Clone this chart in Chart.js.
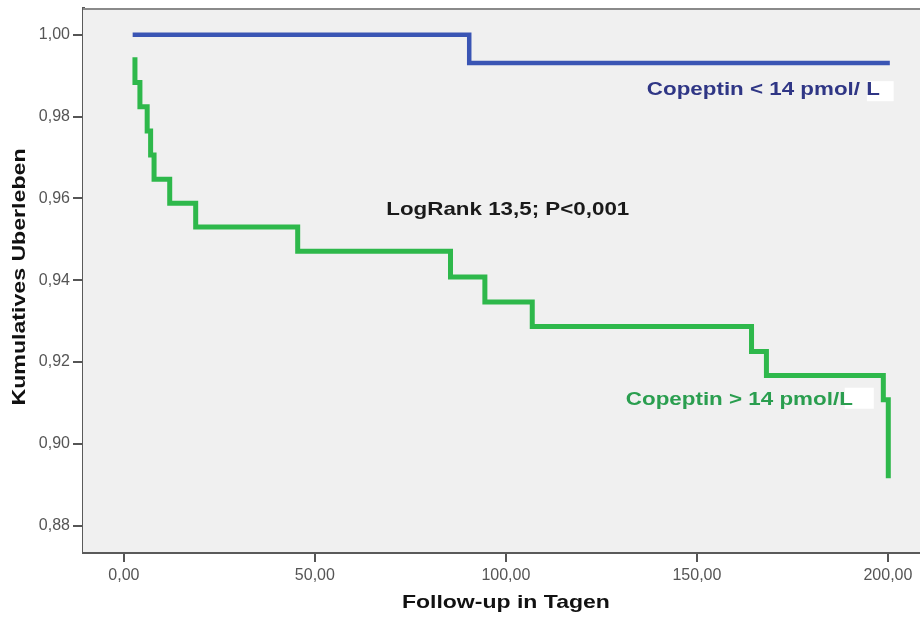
<!DOCTYPE html>
<html><head><meta charset="utf-8">
<script src="https://cdn.jsdelivr.net/npm/chart.js@4/dist/chart.umd.min.js"></script>
<style>html,body{margin:0;padding:0;background:#fff}#wrap{width:920px;height:617px}</style>
</head><body><div id="wrap"><canvas id="c" width="920" height="617"></canvas></div>
<script>
// ---- data ----
const xTicks = [0, 50, 100, 150, 200];
const yTicks = [0.88, 0.90, 0.92, 0.94, 0.96, 0.98, 1.00];
const lowDays = [2.3, 90.4, 200.5];
const lowSurv = [1.0, 0.9931, 0.9931];
const highDays = [2.9, 2.9, 4.2, 6.1, 7.0, 7.9, 12.0, 18.8, 45.5, 85.5, 94.5, 106.9, 164.3, 168.2, 198.8, 200.1];
const highSurv = [0.9945, 0.9883, 0.9824, 0.9765, 0.9706, 0.9647, 0.9588, 0.9530, 0.9471, 0.9408, 0.9347, 0.9287, 0.9226, 0.9167, 0.9108, 0.8916];
const seriesNames = ['Copeptin < 14 pmol/ L', 'Copeptin > 14 pmol/L'];
const xTitle = 'Follow-up in Tagen';
const yTitle = 'Kumulatives Uberleben';
const statText = 'LogRank 13,5; P<0,001';
// label anchors in data units [day, survival]
const lowLabelAt = [167.4, 0.98653];
const highLabelAt = [161.1, 0.91078];
const statAt = [100.5, 0.95731];
// small white patches after the series labels [x0, x1, y0, y1] in data units
const patches = [[194.5, 201.5, 0.98866, 0.98376], [188.7, 196.3, 0.91372, 0.90858]];

const FONT = '"Liberation Sans", Arial, sans-serif';
const fmt = v => Number(v).toFixed(2).replace('.', ',');

function drawFit(ctx, text, x, y, size, color, width, rotate) {
  ctx.save();
  ctx.font = 'bold ' + size + 'px ' + FONT;
  const w = ctx.measureText(text).width;
  const sx = width ? width / w : 1;
  ctx.translate(x, y);
  if (rotate) ctx.rotate(-Math.PI / 2);
  ctx.scale(sx, 1);
  ctx.textAlign = 'center';
  ctx.textBaseline = 'middle';
  ctx.fillStyle = color;
  ctx.fillText(text, 0, 0);
  ctx.restore();
}

const bgPlugin = {
  id: 'bg',
  beforeDatasetsDraw(chart) {
    const {ctx, chartArea: a} = chart;
    ctx.save();
    ctx.fillStyle = '#f0f0f0';
    ctx.fillRect(a.left, a.top, a.right - a.left, a.bottom - a.top);
    ctx.strokeStyle = '#8a8a8a';
    ctx.lineWidth = 2;
    ctx.beginPath();
    ctx.moveTo(a.left, a.top + 1);
    ctx.lineTo(a.right, a.top + 1);
    ctx.stroke();
    ctx.restore();
  },
  afterDatasetsDraw(chart) {
    const {ctx, scales: {x, y}} = chart;
    ctx.save();
    ctx.fillStyle = '#ffffff';
    patches.forEach(p => {
      const x0 = x.getPixelForValue(p[0]), x1 = x.getPixelForValue(p[1]);
      const y0 = y.getPixelForValue(p[2]), y1 = y.getPixelForValue(p[3]);
      ctx.fillRect(x0, y0, x1 - x0, y1 - y0);
    });
    ctx.restore();
    drawFit(ctx, seriesNames[0], x.getPixelForValue(lowLabelAt[0]), y.getPixelForValue(lowLabelAt[1]), 19, '#2f3685', 233);
    drawFit(ctx, seriesNames[1], x.getPixelForValue(highLabelAt[0]), y.getPixelForValue(highLabelAt[1]), 19, '#2a9e4f', 227);
    drawFit(ctx, statText, x.getPixelForValue(statAt[0]), y.getPixelForValue(statAt[1]), 19, '#1a1a1a', 243);
  },
  afterDraw(chart) {
    const {ctx, scales: {x}} = chart;
    const cx = (x.getPixelForValue(xTicks[0]) + x.getPixelForValue(xTicks[xTicks.length - 1])) / 2;
    drawFit(ctx, xTitle, cx, 603, 19, '#111', 208);
    drawFit(ctx, yTitle, 20, 277, 19, '#111', 257, true);
  }
};

const toPts = (xs, ys) => xs.map((v, i) => ({x: v, y: ys[i]}));

new Chart(document.getElementById('c'), {
  type: 'line',
  data: {
    datasets: [
      {label: seriesNames[0], data: toPts(lowDays, lowSurv), borderColor: '#3a55b4', borderWidth: 4.5,
       stepped: 'before', pointRadius: 0, fill: false, borderCapStyle: 'butt', borderJoinStyle: 'miter'},
      {label: seriesNames[1], data: toPts(highDays, highSurv), borderColor: '#2eb84b', borderWidth: 5,
       stepped: 'before', pointRadius: 0, fill: false, borderCapStyle: 'butt', borderJoinStyle: 'miter'}
    ]
  },
  options: {
    responsive: false,
    animation: false,
    devicePixelRatio: 1,
    layout: {padding: {top: 8, left: 0, right: 0, bottom: 0}},
    plugins: {legend: {display: false}, tooltip: {enabled: false}, title: {display: false}},
    scales: {
      x: {
        type: 'linear', min: -10.7, max: 208.4,
        afterBuildTicks: s => { s.ticks = xTicks.map(v => ({value: v})); },
        afterFit: s => { s.height = 65; s.paddingLeft = 0; s.paddingRight = 0; },
        ticks: {callback: fmt, color: '#555', font: {family: FONT, size: 16}, padding: 4, autoSkip: false, maxRotation: 0},
        grid: {display: true, drawOnChartArea: false, drawTicks: true, tickLength: 10, color: '#555', lineWidth: 2},
        border: {display: true, color: '#5a5a5a', width: 3},
        title: {display: false}
      },
      y: {
        type: 'linear', min: 0.87356, max: 1.00654,
        afterBuildTicks: s => { s.ticks = yTicks.map(v => ({value: v})); },
        afterFit: s => { s.width = 83; s.paddingTop = 0; s.paddingBottom = 0; },
        ticks: {callback: fmt, color: '#555', font: {family: FONT, size: 16}, padding: 3, autoSkip: false},
        grid: {display: true, drawOnChartArea: false, drawTicks: true, tickLength: 10, color: '#555', lineWidth: 2},
        border: {display: true, color: '#5a5a5a', width: 3},
        title: {display: false}
      }
    }
  },
  plugins: [bgPlugin]
});
</script>
</body></html>
